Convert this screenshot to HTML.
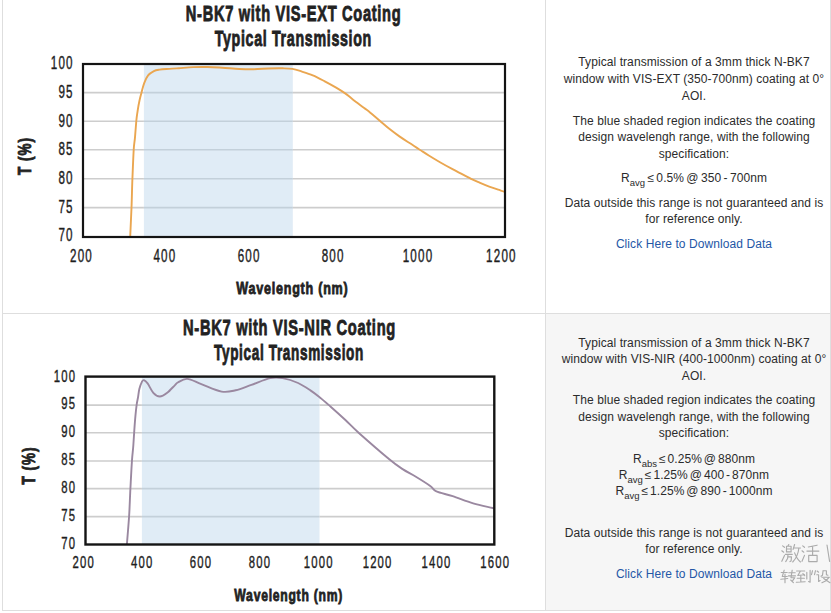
<!DOCTYPE html>
<html><head><meta charset="utf-8"><style>
html,body{margin:0;padding:0}
body{width:831px;height:613px;overflow:hidden;background:#fff;position:relative;font-family:"Liberation Sans",sans-serif}
.b{position:absolute;background:#dedede}
.t{position:absolute;left:551px;width:286px;text-align:center;font-size:12px;line-height:16.8px;color:#2b2b2b;white-space:nowrap;letter-spacing:0.08px}
.t p{margin:0}
.lk{color:#2457a6}
.sp{word-spacing:-1.5px}
.sp2{word-spacing:-1.1px}
sub{font-size:9.5px;vertical-align:-3.5px;line-height:0;letter-spacing:0}
svg{position:absolute;left:0;top:0}
svg text{font-family:"Liberation Sans",sans-serif}
</style></head><body>
<div style="position:absolute;left:546px;top:314px;width:284px;height:296px;background:#f6f6f6"></div>
<div class="b" style="left:2px;top:0;width:1px;height:611px"></div>
<div class="b" style="left:545px;top:0;width:1px;height:611px"></div>
<div class="b" style="left:830px;top:0;width:1px;height:611px"></div>
<div class="b" style="left:2px;top:313px;width:829px;height:1px"></div>
<div class="b" style="left:2px;top:610px;width:829px;height:1px"></div>
<svg width="831" height="613" viewBox="0 0 831 613">
<rect x="143.9" y="64.0" width="148.9" height="173.0" fill="#e0ecf6"/>
<line x1="83.0" y1="92.6" x2="143.9" y2="92.6" stroke="#cdcdcd" stroke-width="1.6"/>
<line x1="143.9" y1="92.6" x2="292.8" y2="92.6" stroke="#c3d0da" stroke-width="1.6"/>
<line x1="292.8" y1="92.6" x2="505.0" y2="92.6" stroke="#cdcdcd" stroke-width="1.6"/>
<line x1="83.0" y1="121.2" x2="143.9" y2="121.2" stroke="#cdcdcd" stroke-width="1.6"/>
<line x1="143.9" y1="121.2" x2="292.8" y2="121.2" stroke="#c3d0da" stroke-width="1.6"/>
<line x1="292.8" y1="121.2" x2="505.0" y2="121.2" stroke="#cdcdcd" stroke-width="1.6"/>
<line x1="83.0" y1="149.8" x2="143.9" y2="149.8" stroke="#cdcdcd" stroke-width="1.6"/>
<line x1="143.9" y1="149.8" x2="292.8" y2="149.8" stroke="#c3d0da" stroke-width="1.6"/>
<line x1="292.8" y1="149.8" x2="505.0" y2="149.8" stroke="#cdcdcd" stroke-width="1.6"/>
<line x1="83.0" y1="178.8" x2="143.9" y2="178.8" stroke="#cdcdcd" stroke-width="1.6"/>
<line x1="143.9" y1="178.8" x2="292.8" y2="178.8" stroke="#c3d0da" stroke-width="1.6"/>
<line x1="292.8" y1="178.8" x2="505.0" y2="178.8" stroke="#cdcdcd" stroke-width="1.6"/>
<line x1="83.0" y1="207.6" x2="143.9" y2="207.6" stroke="#cdcdcd" stroke-width="1.6"/>
<line x1="143.9" y1="207.6" x2="292.8" y2="207.6" stroke="#c3d0da" stroke-width="1.6"/>
<line x1="292.8" y1="207.6" x2="505.0" y2="207.6" stroke="#cdcdcd" stroke-width="1.6"/>
<clipPath id="k1"><rect x="83.0" y="64.0" width="422.0" height="173.0"/></clipPath>
<path clip-path="url(#k1)" d="M130.0,240.0 C130.0,239.5 129.9,242.4 130.2,237.0 C130.4,231.6 131.1,217.4 131.5,207.7 C131.9,198.0 132.0,188.7 132.4,179.0 C132.8,169.3 133.3,156.6 133.7,149.7 C134.1,142.8 134.6,142.1 135.0,137.3 C135.4,132.5 135.9,125.4 136.3,121.0 C136.7,116.6 137.1,114.5 137.6,111.1 C138.1,107.7 138.8,103.7 139.5,100.5 C140.2,97.3 140.8,95.1 141.6,92.2 C142.4,89.3 143.1,85.9 144.2,83.1 C145.3,80.3 146.5,77.4 148.1,75.4 C149.7,73.4 152.0,72.1 153.9,71.1 C155.8,70.1 157.1,70.0 159.6,69.6 C162.1,69.2 166.0,69.1 169.2,68.9 C172.4,68.7 174.9,68.5 178.9,68.2 C182.9,67.9 188.5,67.3 193.3,67.1 C198.1,66.9 202.9,66.9 207.7,67.0 C212.5,67.1 216.9,67.4 222.2,67.7 C227.5,68.0 234.1,68.8 239.4,69.0 C244.7,69.2 249.1,69.3 253.9,69.2 C258.7,69.1 263.5,68.7 268.3,68.5 C273.1,68.3 278.7,68.2 282.7,68.3 C286.7,68.4 289.3,68.4 292.4,68.9 C295.5,69.4 298.0,70.3 301.4,71.4 C304.8,72.5 309.0,73.8 312.8,75.4 C316.6,77.0 320.5,79.1 324.3,81.1 C328.1,83.1 332.3,85.4 335.7,87.4 C339.1,89.4 341.9,91.1 344.8,93.1 C347.7,95.1 349.6,96.9 352.8,99.4 C356.0,101.9 361.3,105.8 364.2,108.0 C367.1,110.2 367.4,110.3 370.0,112.4 C372.6,114.5 376.5,118.0 379.8,120.8 C383.1,123.6 386.3,126.5 389.6,129.1 C392.9,131.7 396.1,134.1 399.4,136.4 C402.7,138.7 405.9,140.7 409.2,142.8 C412.5,144.9 415.7,147.1 419.0,149.2 C422.3,151.3 425.3,153.3 428.8,155.5 C432.3,157.7 436.0,159.9 440.0,162.2 C444.0,164.5 449.3,167.4 453.0,169.4 C456.7,171.4 459.1,172.6 462.1,174.2 C465.1,175.8 468.1,177.4 471.1,178.9 C474.1,180.4 477.1,181.6 480.1,182.9 C483.1,184.2 486.2,185.5 489.2,186.6 C492.2,187.7 495.4,188.8 498.2,189.7 C501.0,190.6 503.7,191.5 506.0,192.2 C508.3,192.9 511.0,193.7 512.0,194.0" fill="none" stroke="#eaa650" stroke-width="1.9" stroke-linejoin="round" stroke-linecap="round"/>
<rect x="83.0" y="64.0" width="422.0" height="173.0" fill="none" stroke="#141414" stroke-width="2.2"/>
<text transform="translate(293.6,21.4) scale(0.688,1)" text-anchor="middle" font-size="21.3" font-weight="bold" fill="#222" stroke="#222" stroke-width="0.8" letter-spacing="1.0">N-BK7 with VIS-EXT Coating</text>
<text transform="translate(293.3,46.2) scale(0.670,1)" text-anchor="middle" font-size="21.3" font-weight="bold" fill="#222" stroke="#222" stroke-width="0.8" letter-spacing="1.0">Typical Transmission</text>
<text transform="translate(73.7,68.9) scale(0.660,1)" text-anchor="end" font-size="17.6" font-weight="normal" fill="#1e1e1e" stroke="#1e1e1e" stroke-width="0.4" letter-spacing="1.8">100</text>
<text transform="translate(73.7,97.8) scale(0.660,1)" text-anchor="end" font-size="17.6" font-weight="normal" fill="#1e1e1e" stroke="#1e1e1e" stroke-width="0.4" letter-spacing="1.8">95</text>
<text transform="translate(73.7,126.5) scale(0.660,1)" text-anchor="end" font-size="17.6" font-weight="normal" fill="#1e1e1e" stroke="#1e1e1e" stroke-width="0.4" letter-spacing="1.8">90</text>
<text transform="translate(73.7,155.2) scale(0.660,1)" text-anchor="end" font-size="17.6" font-weight="normal" fill="#1e1e1e" stroke="#1e1e1e" stroke-width="0.4" letter-spacing="1.8">85</text>
<text transform="translate(73.7,184.1) scale(0.660,1)" text-anchor="end" font-size="17.6" font-weight="normal" fill="#1e1e1e" stroke="#1e1e1e" stroke-width="0.4" letter-spacing="1.8">80</text>
<text transform="translate(73.7,212.9) scale(0.660,1)" text-anchor="end" font-size="17.6" font-weight="normal" fill="#1e1e1e" stroke="#1e1e1e" stroke-width="0.4" letter-spacing="1.8">75</text>
<text transform="translate(73.7,241.0) scale(0.660,1)" text-anchor="end" font-size="17.6" font-weight="normal" fill="#1e1e1e" stroke="#1e1e1e" stroke-width="0.4" letter-spacing="1.8">70</text>
<text transform="translate(81.5,262.3) scale(0.660,1)" text-anchor="middle" font-size="17.6" font-weight="normal" fill="#1e1e1e" stroke="#1e1e1e" stroke-width="0.4" letter-spacing="1.8">200</text>
<text transform="translate(164.9,262.3) scale(0.660,1)" text-anchor="middle" font-size="17.6" font-weight="normal" fill="#1e1e1e" stroke="#1e1e1e" stroke-width="0.4" letter-spacing="1.8">400</text>
<text transform="translate(249.1,262.3) scale(0.660,1)" text-anchor="middle" font-size="17.6" font-weight="normal" fill="#1e1e1e" stroke="#1e1e1e" stroke-width="0.4" letter-spacing="1.8">600</text>
<text transform="translate(333.1,262.3) scale(0.660,1)" text-anchor="middle" font-size="17.6" font-weight="normal" fill="#1e1e1e" stroke="#1e1e1e" stroke-width="0.4" letter-spacing="1.8">800</text>
<text transform="translate(418.0,262.3) scale(0.660,1)" text-anchor="middle" font-size="17.6" font-weight="normal" fill="#1e1e1e" stroke="#1e1e1e" stroke-width="0.4" letter-spacing="1.8">1000</text>
<text transform="translate(501.4,262.3) scale(0.660,1)" text-anchor="middle" font-size="17.6" font-weight="normal" fill="#1e1e1e" stroke="#1e1e1e" stroke-width="0.4" letter-spacing="1.8">1200</text>
<text transform="translate(292.4,294.4) scale(0.762,1)" text-anchor="middle" font-size="16.5" font-weight="bold" fill="#222" stroke="#222" stroke-width="0.8" letter-spacing="1.0">Wavelength (nm)</text>
<text transform="translate(31.2,156.1) rotate(-90) scale(0.770,1)" text-anchor="middle" font-size="17.5" font-weight="bold" fill="#222" stroke="#222" stroke-width="0.8" letter-spacing="1.3">T (%)</text>
<rect x="141.9" y="376.6" width="177.6" height="167.9" fill="#e0ecf6"/>
<line x1="85.5" y1="405.1" x2="141.9" y2="405.1" stroke="#cdcdcd" stroke-width="1.6"/>
<line x1="141.9" y1="405.1" x2="319.5" y2="405.1" stroke="#c3d0da" stroke-width="1.6"/>
<line x1="319.5" y1="405.1" x2="494.3" y2="405.1" stroke="#cdcdcd" stroke-width="1.6"/>
<line x1="85.5" y1="432.7" x2="141.9" y2="432.7" stroke="#cdcdcd" stroke-width="1.6"/>
<line x1="141.9" y1="432.7" x2="319.5" y2="432.7" stroke="#c3d0da" stroke-width="1.6"/>
<line x1="319.5" y1="432.7" x2="494.3" y2="432.7" stroke="#cdcdcd" stroke-width="1.6"/>
<line x1="85.5" y1="461.0" x2="141.9" y2="461.0" stroke="#cdcdcd" stroke-width="1.6"/>
<line x1="141.9" y1="461.0" x2="319.5" y2="461.0" stroke="#c3d0da" stroke-width="1.6"/>
<line x1="319.5" y1="461.0" x2="494.3" y2="461.0" stroke="#cdcdcd" stroke-width="1.6"/>
<line x1="85.5" y1="488.6" x2="141.9" y2="488.6" stroke="#cdcdcd" stroke-width="1.6"/>
<line x1="141.9" y1="488.6" x2="319.5" y2="488.6" stroke="#c3d0da" stroke-width="1.6"/>
<line x1="319.5" y1="488.6" x2="494.3" y2="488.6" stroke="#cdcdcd" stroke-width="1.6"/>
<line x1="85.5" y1="516.6" x2="141.9" y2="516.6" stroke="#cdcdcd" stroke-width="1.6"/>
<line x1="141.9" y1="516.6" x2="319.5" y2="516.6" stroke="#c3d0da" stroke-width="1.6"/>
<line x1="319.5" y1="516.6" x2="494.3" y2="516.6" stroke="#cdcdcd" stroke-width="1.6"/>
<clipPath id="k2"><rect x="85.5" y="376.6" width="408.8" height="167.9"/></clipPath>
<path clip-path="url(#k2)" d="M126.8,548.0 C126.8,547.2 126.6,548.3 127.0,543.0 C127.4,537.7 128.5,525.2 129.1,516.2 C129.7,507.2 129.9,498.1 130.4,488.7 C130.9,479.3 131.5,467.2 132.0,460.1 C132.5,453.0 132.9,451.5 133.3,445.8 C133.7,440.1 134.1,432.9 134.6,426.1 C135.1,419.3 136.0,409.9 136.6,405.2 C137.2,400.5 137.4,400.8 137.9,398.0 C138.4,395.2 138.7,391.4 139.4,388.7 C140.1,386.0 141.2,383.2 141.9,381.8 C142.7,380.4 143.0,379.9 143.9,380.2 C144.8,380.5 146.0,381.3 147.6,383.4 C149.2,385.5 151.3,390.6 153.3,392.8 C155.3,395.0 157.5,396.5 159.8,396.5 C162.1,396.5 164.7,394.7 167.2,392.8 C169.7,390.9 173.2,386.8 175.0,385.1 C176.8,383.4 175.8,383.5 177.8,382.5 C179.8,381.5 183.3,378.6 187.2,378.9 C191.1,379.2 195.6,382.0 201.3,384.1 C207.0,386.2 215.9,390.6 221.6,391.6 C227.3,392.6 230.7,391.4 235.7,390.3 C240.7,389.2 245.7,386.9 251.4,384.9 C257.1,382.9 264.9,379.2 270.1,378.1 C275.3,377.0 277.9,377.3 282.6,378.1 C287.3,378.9 293.5,380.9 298.1,383.0 C302.7,385.1 306.7,387.9 310.4,390.4 C314.1,392.8 316.8,395.0 320.2,397.7 C323.6,400.4 326.5,403.0 330.7,406.7 C334.9,410.4 340.8,415.7 345.4,420.0 C350.0,424.3 351.3,426.1 358.6,432.7 C365.9,439.2 382.0,453.2 389.3,459.3 C396.6,465.4 398.2,466.2 402.6,469.1 C407.0,472.0 411.3,473.9 415.9,476.7 C420.5,479.5 426.8,483.4 430.2,485.9 C433.6,488.3 432.6,489.7 436.4,491.4 C440.1,493.1 446.6,494.2 452.7,496.2 C458.8,498.2 466.5,501.3 473.2,503.3 C479.9,505.3 488.1,506.9 492.6,508.0 C497.1,509.1 498.8,509.7 500.0,510.0" fill="none" stroke="#9a88a0" stroke-width="1.9" stroke-linejoin="round" stroke-linecap="round"/>
<rect x="85.5" y="376.6" width="408.8" height="167.9" fill="none" stroke="#141414" stroke-width="2.4"/>
<text transform="translate(289.5,335.2) scale(0.690,1)" text-anchor="middle" font-size="21.3" font-weight="bold" fill="#222" stroke="#222" stroke-width="0.8" letter-spacing="1.0">N-BK7 with VIS-NIR Coating</text>
<text transform="translate(289.0,359.8) scale(0.638,1)" text-anchor="middle" font-size="21.3" font-weight="bold" fill="#222" stroke="#222" stroke-width="0.8" letter-spacing="1.0">Typical Transmission</text>
<text transform="translate(76.2,381.7) scale(0.650,1)" text-anchor="end" font-size="17.4" font-weight="normal" fill="#1e1e1e" stroke="#1e1e1e" stroke-width="0.4" letter-spacing="1.8">100</text>
<text transform="translate(76.2,409.4) scale(0.650,1)" text-anchor="end" font-size="17.4" font-weight="normal" fill="#1e1e1e" stroke="#1e1e1e" stroke-width="0.4" letter-spacing="1.8">95</text>
<text transform="translate(76.2,437.2) scale(0.650,1)" text-anchor="end" font-size="17.4" font-weight="normal" fill="#1e1e1e" stroke="#1e1e1e" stroke-width="0.4" letter-spacing="1.8">90</text>
<text transform="translate(76.2,465.2) scale(0.650,1)" text-anchor="end" font-size="17.4" font-weight="normal" fill="#1e1e1e" stroke="#1e1e1e" stroke-width="0.4" letter-spacing="1.8">85</text>
<text transform="translate(76.2,493.2) scale(0.650,1)" text-anchor="end" font-size="17.4" font-weight="normal" fill="#1e1e1e" stroke="#1e1e1e" stroke-width="0.4" letter-spacing="1.8">80</text>
<text transform="translate(76.2,521.2) scale(0.650,1)" text-anchor="end" font-size="17.4" font-weight="normal" fill="#1e1e1e" stroke="#1e1e1e" stroke-width="0.4" letter-spacing="1.8">75</text>
<text transform="translate(76.2,549.0) scale(0.650,1)" text-anchor="end" font-size="17.4" font-weight="normal" fill="#1e1e1e" stroke="#1e1e1e" stroke-width="0.4" letter-spacing="1.8">70</text>
<text transform="translate(83.7,568.1) scale(0.650,1)" text-anchor="middle" font-size="17.4" font-weight="normal" fill="#1e1e1e" stroke="#1e1e1e" stroke-width="0.4" letter-spacing="1.8">200</text>
<text transform="translate(142.2,568.1) scale(0.650,1)" text-anchor="middle" font-size="17.4" font-weight="normal" fill="#1e1e1e" stroke="#1e1e1e" stroke-width="0.4" letter-spacing="1.8">400</text>
<text transform="translate(201.0,568.1) scale(0.650,1)" text-anchor="middle" font-size="17.4" font-weight="normal" fill="#1e1e1e" stroke="#1e1e1e" stroke-width="0.4" letter-spacing="1.8">600</text>
<text transform="translate(259.9,568.1) scale(0.650,1)" text-anchor="middle" font-size="17.4" font-weight="normal" fill="#1e1e1e" stroke="#1e1e1e" stroke-width="0.4" letter-spacing="1.8">800</text>
<text transform="translate(318.7,568.1) scale(0.650,1)" text-anchor="middle" font-size="17.4" font-weight="normal" fill="#1e1e1e" stroke="#1e1e1e" stroke-width="0.4" letter-spacing="1.8">1000</text>
<text transform="translate(377.6,568.1) scale(0.650,1)" text-anchor="middle" font-size="17.4" font-weight="normal" fill="#1e1e1e" stroke="#1e1e1e" stroke-width="0.4" letter-spacing="1.8">1200</text>
<text transform="translate(436.5,568.1) scale(0.650,1)" text-anchor="middle" font-size="17.4" font-weight="normal" fill="#1e1e1e" stroke="#1e1e1e" stroke-width="0.4" letter-spacing="1.8">1400</text>
<text transform="translate(495.2,568.1) scale(0.650,1)" text-anchor="middle" font-size="17.4" font-weight="normal" fill="#1e1e1e" stroke="#1e1e1e" stroke-width="0.4" letter-spacing="1.8">1600</text>
<text transform="translate(288.7,601.3) scale(0.759,1)" text-anchor="middle" font-size="16" font-weight="bold" fill="#222" stroke="#222" stroke-width="0.8" letter-spacing="1.0">Wavelength (nm)</text>
<text transform="translate(35.0,465.5) rotate(-90) scale(0.770,1)" text-anchor="middle" font-size="17.5" font-weight="bold" fill="#222" stroke="#222" stroke-width="0.8" letter-spacing="1.3">T (%)</text>
</svg>
<div class="t " style="top:54.4px">Typical transmission of a 3mm thick N-BK7</div>
<div class="t " style="top:71.3px">window with VIS-EXT (350-700nm) coating at 0°</div>
<div class="t " style="top:87.9px">AOI.</div>
<div class="t " style="top:112.8px">The blue shaded region indicates the coating</div>
<div class="t " style="top:129.2px">design wavelengh range, with the following</div>
<div class="t " style="top:146.0px">specification:</div>
<div class="t sp2" style="top:169.6px">R<sub>avg</sub> ≤ 0.5% @ 350 - 700nm</div>
<div class="t " style="top:194.5px">Data outside this range is not guaranteed and is</div>
<div class="t " style="top:211.0px">for reference only.</div>
<div class="t lk" style="top:235.6px">Click Here to Download Data</div>
<div class="t " style="top:334.7px">Typical transmission of a 3mm thick N-BK7</div>
<div class="t " style="top:351.2px">window with VIS-NIR (400-1000nm) coating at 0°</div>
<div class="t " style="top:367.8px">AOI.</div>
<div class="t " style="top:392.0px">The blue shaded region indicates the coating</div>
<div class="t " style="top:408.8px">design wavelengh range, with the following</div>
<div class="t " style="top:425.0px">specification:</div>
<div class="t sp" style="top:450.8px">R<sub>abs</sub> ≤ 0.25% @ 880nm</div>
<div class="t sp" style="top:466.6px">R<sub>avg</sub> ≤ 1.25% @ 400 - 870nm</div>
<div class="t sp" style="top:482.6px">R<sub>avg</sub> ≤ 1.25% @ 890 - 1000nm</div>
<div class="t " style="top:524.5px">Data outside this range is not guaranteed and is</div>
<div class="t " style="top:541.2px">for reference only.</div>
<div class="t lk" style="top:566.3px">Click Here to Download Data</div>
<svg width="831" height="613" style="position:absolute;left:0;top:0"><g fill="none" stroke="#ababab" stroke-width="1.15" stroke-linecap="round" stroke-linejoin="round"><path d="M 782.6 545.9 L 784.5 547.3 M 781.8 550.8 L 783.7 552.2 M 781.8 561.3 L 784.5 555.4 M 788.8 544.5 L 788.0 545.9 M 786.5 546.2 L 791.1 546.2 L 791.1 551.9 L 786.5 551.9 Z M 786.5 549.0 L 791.1 549.0 M 785.3 554.3 L 792.3 554.3 M 788.0 554.3 L 787.6 558.5 L 785.7 561.6 M 788.0 556.8 L 791.5 556.8 L 791.1 561.0 L 790.0 561.6 M 794.6 544.5 L 793.1 549.4 M 793.5 548.0 L 800.5 548.0 M 798.9 548.0 C 798.2 554.1 795.8 558.9 792.7 562.0 M 794.6 552.9 C 796.2 557.1 798.2 560.2 800.5 562.0"/><path d="M 802.7 545.9 L 804.5 547.3 M 802.0 550.8 L 803.8 552.2 M 802.0 561.3 L 804.5 555.4 M 817.1 545.2 L 808.3 547.0 M 806.9 551.1 L 818.9 551.1 M 812.6 546.6 L 812.6 555.4 M 808.7 555.4 L 817.1 555.4 L 817.1 561.6 L 808.7 561.6 Z"/><path d="M827,545 L829.6,561.5"/><path d="M 781.2 572.5 L 787.2 572.5 M 784.2 570.2 L 782.3 576.5 L 787.2 576.5 M 780.8 579.2 L 787.7 578.5 M 785.0 574.0 L 785.0 582.7 M 788.8 572.7 L 795.2 572.7 M 788.3 575.8 L 795.5 575.8 M 792.2 570.2 L 791.0 577.7 L 794.8 577.7 L 792.5 580.8 M 790.7 580.0 L 793.4 582.7"/><path d="M 796.6 571.0 L 804.7 571.0 M 800.5 571.0 L 797.8 575.5 L 804.4 574.7 M 802.9 573.5 L 804.7 575.7 M 797.2 578.2 L 804.4 578.2 M 800.8 575.7 L 800.8 582.0 M 796.3 582.2 L 805.0 581.7 M 806.8 572.2 L 806.8 579.0 M 810.1 570.2 L 810.1 582.2 L 808.6 581.5"/><path d="M 812.5 570.7 L 811.5 574.7 M 815.5 570.7 L 814.5 574.7"/><path d="M 817.1 571.0 L 818.6 572.2 M 816.8 574.7 L 818.6 574.7 L 818.6 581.5 L 820.1 580.5 M 823.1 570.7 L 822.5 575.2 L 821.0 576.2 M 823.1 570.7 L 826.4 570.7 L 826.4 574.7 L 827.9 575.2 M 821.9 577.2 L 829.4 577.2 L 825.5 581.0 L 821.9 582.7 M 823.7 578.5 L 830.0 582.7"/></g></svg>
</body></html>
